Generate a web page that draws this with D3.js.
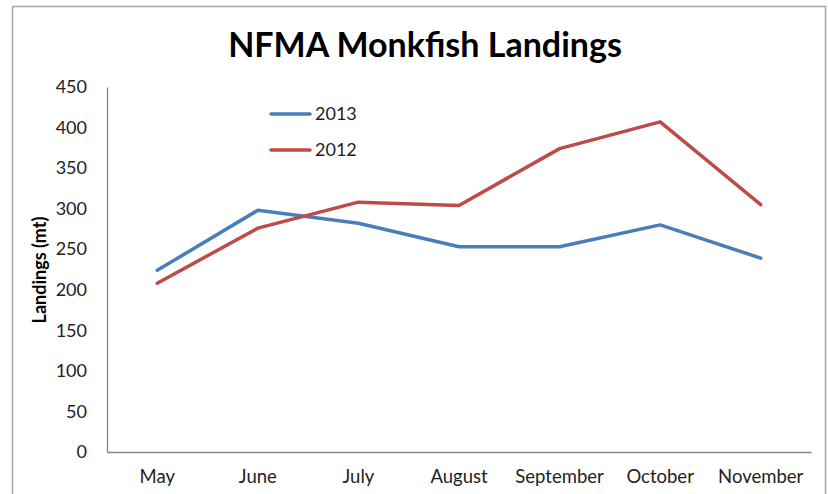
<!DOCTYPE html>
<html>
<head>
<meta charset="utf-8">
<script src="https://cdn.jsdelivr.net/npm/d3@7"></script>
<style>
  html, body { margin: 0; padding: 0; background: #fff; }
  svg { display: block; font-family: Lato, 'Open Sans', sans-serif; }
</style>
</head>
<body>
<div id="chart"></div>
<script>
let months = ['May', 'June', 'July', 'August', 'September', 'October', 'November'];
let landings2013 = [224, 298, 282, 253, 253, 280, 239];
let landings2012 = [208, 276, 308, 304, 374, 407, 305];
let yTicks = [0, 50, 100, 150, 200, 250, 300, 350, 400, 450];
let seriesNames = ['2013', '2012'];
let seriesColors = ['#4a7ebb', '#be4b48'];

let width = 828;
let height = 494;
let plot = { left: 107, right: 811, top: 87, bottom: 452 };

let svg = d3.select('#chart').append('svg')
            .attr('width', width)
            .attr('height', height);

// outer chart border
svg.append('rect')
   .attr('x', 12.5).attr('y', 6.5)
   .attr('width', 813).attr('height', 500)
   .attr('fill', 'none')
   .attr('stroke', '#a6a6a6')
   .attr('stroke-width', 1.5);

let xScale = d3.scaleBand()
               .domain(months)
               .range([plot.left, plot.right]);
let yScale = d3.scaleLinear()
               .domain([0, 450])
               .range([plot.bottom, plot.top]);

// title
svg.append('text')
   .attr('x', 425).attr('y', 57)
   .attr('text-anchor', 'middle')
   .style('font-size', '34px')
   .style('font-weight', 'bold')
   .text('NFMA Monkfish Landings');

// y axis
let yAxis = svg.append('g')
               .attr('transform', `translate(${plot.left}, 0)`)
               .call(d3.axisLeft(yScale).tickValues(yTicks).tickSize(0).tickPadding(20));
yAxis.select('.domain').attr('stroke', '#868686').attr('stroke-width', 1.3);
yAxis.selectAll('text').style('font-size', '18px').style('font-family', 'Lato, sans-serif').attr('fill', '#222');

// x axis
let xAxis = svg.append('g')
               .attr('transform', `translate(0, ${plot.bottom})`)
               .call(d3.axisBottom(xScale).tickSize(0).tickPadding(18));
xAxis.select('.domain').attr('stroke', '#868686').attr('stroke-width', 1.3);
xAxis.selectAll('text').style('font-size', '18.5px').style('font-family', 'Lato, sans-serif').attr('fill', '#222');

// y axis title
svg.append('text')
   .attr('transform', `translate(46, 270) rotate(-90)`)
   .attr('text-anchor', 'middle')
   .style('font-size', '18px')
   .style('font-weight', 'bold')
   .text('Landings (mt)');

let line = d3.line()
             .x((v, i) => xScale(months[i]) + xScale.bandwidth() / 2)
             .y(v => yScale(v));

[landings2013, landings2012].forEach((series, k) => {
  svg.append('path')
     .datum(series)
     .attr('d', line)
     .attr('fill', 'none')
     .attr('stroke', seriesColors[k])
     .attr('stroke-width', 3.5)
     .attr('stroke-linejoin', 'round')
     .attr('stroke-linecap', 'round');
});

// legend
seriesNames.forEach((name, k) => {
  let ly = 114 + k * 36;
  svg.append('line')
     .attr('x1', 271).attr('x2', 310)
     .attr('y1', ly).attr('y2', ly)
     .attr('stroke', seriesColors[k])
     .attr('stroke-width', 3.5)
     .attr('stroke-linecap', 'round');
  svg.append('text')
     .attr('x', 315).attr('y', ly + 6)
     .style('font-size', '18px')
     .attr('fill', '#222')
     .text(name);
});
</script>
</body>
</html>
